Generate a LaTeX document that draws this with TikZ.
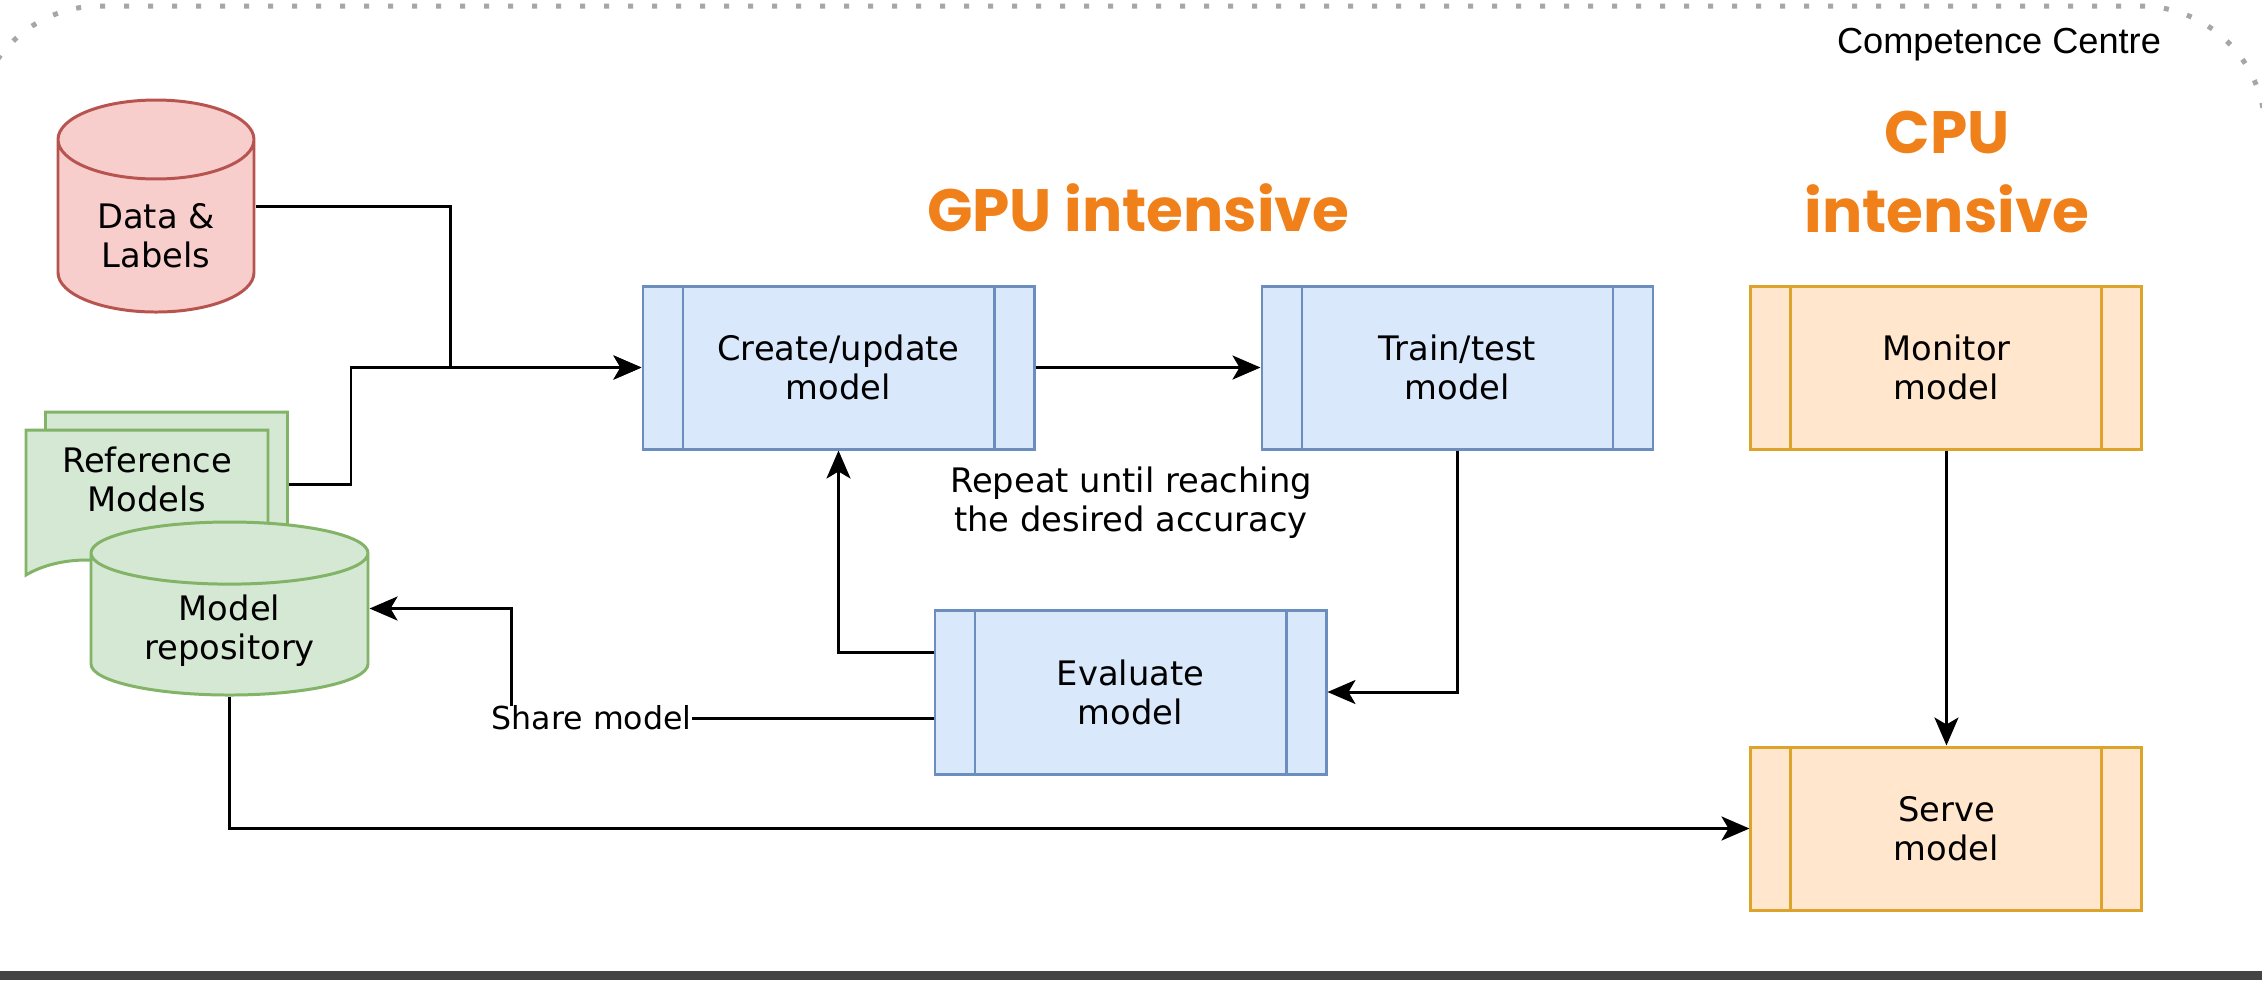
\documentclass[tikz,border=0pt]{standalone}
\usepackage{fontspec}
\setmainfont{DejaVu Sans}
\newfontfamily\headfont{Poppins}
\newfontfamily\slidefont{Liberation Sans}
\usetikzlibrary{arrows.meta, positioning, shapes.geometric, shapes.symbols, calc}
\definecolor{softblue}{HTML}{DAE8FC}
\definecolor{blueline}{HTML}{6C8EBF}
\definecolor{softorange}{HTML}{FFE6CC}
\definecolor{orangeline}{HTML}{DCA42A}
\definecolor{softred}{HTML}{F8CECC}
\definecolor{redline}{HTML}{B85450}
\definecolor{softgreen}{HTML}{D5E8D4}
\definecolor{greenline}{HTML}{82B366}
\definecolor{accent}{HTML}{F0801A}
\definecolor{framegray}{HTML}{A6A6A6}
\definecolor{bargray}{HTML}{444444}
\tikzset{
  boxtext/.style={font=\fontsize{9.6}{11.1}\selectfont, align=center},
  procbox/.style={
    rectangle, boxtext, line width=0.85pt,
    minimum width=3.91cm, minimum height=1.63cm,
    path picture={
      \draw[#1, line width=0.85pt]
        ([xshift=0.4cm]path picture bounding box.north west) -- ([xshift=0.4cm]path picture bounding box.south west)
        ([xshift=-0.4cm]path picture bounding box.north east) -- ([xshift=-0.4cm]path picture bounding box.south east);
    }
  },
  bluebox/.style={procbox=blueline, fill=softblue, draw=blueline},
  orangebox/.style={procbox=orangeline, fill=softorange, draw=orangeline},
  drum/.style={cylinder, shape border rotate=90, boxtext, inner ysep=0pt, line width=0.85pt},
  reddrum/.style={drum, fill=softred, draw=redline},
  greendrum/.style={drum, fill=softgreen, draw=greenline},
  page/.style={
    tape, tape bend top=none, tape bend bottom=out and in, tape bend height=0.3cm,
    boxtext, fill=softgreen, draw=greenline, line width=0.85pt,
    minimum width=2.42cm, minimum height=1.6cm
  },
  note/.style={boxtext},
  headline/.style={font=\headfont\bfseries\fontsize{17}{22.2}\selectfont, text=accent, align=center},
  corner/.style={font=\slidefont\fontsize{10.3}{12}\selectfont},
  arrow/.style={-{Stealth[length=0.28cm, width=0.24cm, inset=0.07cm]}, line width=0.85pt},
  dotframe/.style={draw=framegray, line width=0.05cm, dash pattern=on 0.05cm off 0.19cm, rounded corners=1.25cm},
}
\begin{document}
\begin{tikzpicture}
  \useasboundingbox (0,0) rectangle (22.62,-9.80);
  % slide frame
  \draw[dotframe] (-0.25,-0.06) rectangle (22.65,-12);
  \fill[bargray] (0,-9.71) rectangle (22.62,-9.80);
  \node[corner, anchor=base] (centre) at (19.99,-0.53) {Competence Centre};

  % stores
  \node[reddrum, minimum width=1.96cm, minimum height=2.12cm, aspect=0.56, anchor=shape center] (data) at (1.56,-2.06) {Data \&\\Labels};
  \node[page] (refsback) at (1.665,-4.77) {};
  \node[page, text depth=0.32cm] (refs) at (1.47,-4.95) {Reference\\Models};
  \node[greendrum, minimum width=2.77cm, minimum height=1.73cm, aspect=0.32, anchor=shape center] (repo) at (2.295,-6.085) {Model\\repository};

  % GPU part
  \node[headline, anchor=base] (gpu) at (11.38,-2.31) {GPU intensive};
  \node[bluebox] (create) at (8.385,-3.675) {Create/update\\model};
  \node[bluebox, right=2.25cm of create] (train) {Train/test\\model};
  \node[bluebox, minimum height=1.64cm] (eval) at (11.305,-6.92) {Evaluate\\model};
  \node[note] (repeat) at (11.31,-5.03) {Repeat until reaching\\the desired accuracy};

  % CPU part
  \node[headline, anchor=base] (cpu) at (19.47,-2.32) {CPU\\intensive};
  \node[orangebox, right=0.95cm of train] (monitor) {Monitor\\model};
  \node[orangebox, below=2.95cm of monitor] (serve) {Serve\\model};

  \draw[arrow] (data.east |- data.shape center) -- ++(1.95,0) |- (create.west);
  \draw[arrow] ([yshift=-0.07cm]refsback.east) -- ++(0.62,0) |- (create.west);
  \draw[arrow] (create) -- (train);
  \draw[arrow] (train.south) |- (eval.east);
  \draw[arrow] ([yshift=0.4cm]eval.west) -| (create.south);
  \draw[arrow] ([yshift=-0.26cm]eval.west) -- ++(-4.22,0)
    node[note, pos=0.81, fill=white, inner sep=0pt, font=\fontsize{9}{11}\selectfont] {Share model} |- (repo.east |- repo.shape center);
  \draw[arrow] (repo.south) |- (serve.west);
  \draw[arrow] (monitor) -- (serve);
\end{tikzpicture}
\end{document}
